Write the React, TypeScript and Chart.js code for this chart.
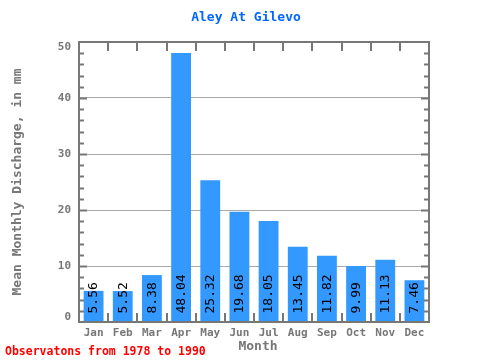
import React, { useEffect, useRef } from "react";
import { Chart, registerables } from "chart.js";

Chart.register(...registerables);

const months = ["Jan", "Feb", "Mar", "Apr", "May", "Jun", "Jul", "Aug", "Sep", "Oct", "Nov", "Dec"];
const discharge = [5.56, 5.52, 8.38, 48.04, 25.32, 19.68, 18.05, 13.45, 11.82, 9.99, 11.13, 7.46];
const valueLabels = ["5.56", "5.52", "8.38", "48.04", "25.32", "19.68", "18.05", "13.45", "11.82", "9.99", "11.13", "7.46"];
const yTickValues = [0, 10, 20, 30, 40, 50];
const titleText = "Aley At Gilevo";
const yTitle = "Mean Monthly Discharge, in mm";
const xTitle = "Month";
const noteText = "Observatons from 1978 to 1990";

const MONO = "'DejaVu Sans Mono', 'Liberation Mono', monospace";
const GRAY = "#777777";

const decor = {
  id: "decor",
  afterDatasetsDraw(chart: any) {
    const ctx = chart.ctx;
    const meta = chart.getDatasetMeta(0);
    ctx.save();
    ctx.fillStyle = "#000";
    ctx.font = `13px ${MONO}`;
    ctx.textAlign = "left";
    ctx.textBaseline = "middle";
    meta.data.forEach((el: any, i: number) => {
      ctx.save();
      ctx.translate(el.x + 0.5, el.base - 8);
      ctx.rotate(-Math.PI / 2);
      ctx.fillText(valueLabels[i], 0, 0);
      ctx.restore();
    });
    ctx.restore();
  },
  afterDraw(chart: any) {
    const ctx = chart.ctx;
    const a = chart.chartArea;
    const x = chart.scales.x;
    const y = chart.scales.y;
    ctx.save();
    ctx.strokeStyle = GRAY;
    ctx.lineWidth = 2;
    ctx.strokeRect(a.left, a.top, a.right - a.left, a.bottom - a.top);
    ctx.beginPath();
    for (let v = 2; v < 50; v += 2) {
      const py = Math.round(y.getPixelForValue(v)) + 0.5;
      const len = v % 10 === 0 ? 8 : 5;
      ctx.moveTo(a.left, py);
      ctx.lineTo(a.left + len, py);
      ctx.moveTo(a.right, py);
      ctx.lineTo(a.right - len, py);
    }
    for (let i = 1; i < months.length; i++) {
      const px = Math.round((x.getPixelForValue(i - 1) + x.getPixelForValue(i)) / 2);
      ctx.moveTo(px, a.top);
      ctx.lineTo(px, a.top + 9);
      ctx.moveTo(px, a.bottom);
      ctx.lineTo(px, a.bottom - 9);
    }
    ctx.stroke();

    // y tick labels, kept inside the frame's vertical extent
    ctx.fillStyle = GRAY;
    ctx.font = `bold 11px ${MONO}`;
    ctx.textAlign = "right";
    ctx.textBaseline = "middle";
    yTickValues.forEach((v) => {
      let py = y.getPixelForValue(v);
      py = Math.min(Math.max(py, a.top + 5), a.bottom - 5);
      ctx.fillText(String(v), a.left - 8, py);
    });

    ctx.textAlign = "center";
    ctx.fillStyle = "#0066ff";
    ctx.font = `bold 13px ${MONO}`;
    ctx.fillText(titleText, 246, 18);

    ctx.fillStyle = GRAY;
    ctx.font = `bold 13px ${MONO}`;
    ctx.fillText(xTitle, 258, 347);

    ctx.save();
    ctx.translate(18, 182);
    ctx.rotate(-Math.PI / 2);
    ctx.fillText(yTitle, 0, 0);
    ctx.restore();

    ctx.fillStyle = "#ff0000";
    ctx.textAlign = "left";
    ctx.font = `bold 11.5px ${MONO}`;
    ctx.fillText(noteText, 5, 352);
    ctx.restore();
  },
};

export default function App() {
  const ref = useRef<HTMLCanvasElement>(null);
  useEffect(() => {
    if (!ref.current) return;
    const chart = new Chart(ref.current, {
      type: "bar",
      data: {
        labels: months,
        datasets: [
          {
            data: discharge,
            backgroundColor: "#3399ff",
            borderWidth: 0,
            barPercentage: 0.68,
            categoryPercentage: 1,
          },
        ],
      },
      options: {
        responsive: false,
        animation: false,
        devicePixelRatio: 1,
        layout: { padding: { left: 0, top: 42, right: 51, bottom: 0 } },
        plugins: { legend: { display: false }, tooltip: { enabled: false }, title: { display: false } },
        scales: {
          x: {
            grid: { display: false, drawTicks: false },
            border: { display: false },
            ticks: { color: GRAY, font: { family: MONO, size: 11, weight: "bold" }, padding: 5, maxRotation: 0 },
            afterFit: (s: any) => {
              s.height = 38;
            },
          },
          y: {
            min: 0,
            max: 50,
            grid: {
              drawTicks: false,
              color: (c: any) => (c.tick && (c.tick.value === 0 || c.tick.value === 50) ? "rgba(0,0,0,0)" : "#aaaaaa"),
              lineWidth: 1,
            },
            border: { display: false },
            ticks: { stepSize: 10, display: false },
            afterFit: (s: any) => {
              s.width = 79;
            },
          },
        },
      },
      plugins: [decor],
    });
    return () => chart.destroy();
  }, []);
  return (
    <div style={{ position: "absolute", left: 0, top: 0, width: 480, height: 360, background: "#fff" }}>
      <canvas ref={ref} width={480} height={360} />
    </div>
  );
}
